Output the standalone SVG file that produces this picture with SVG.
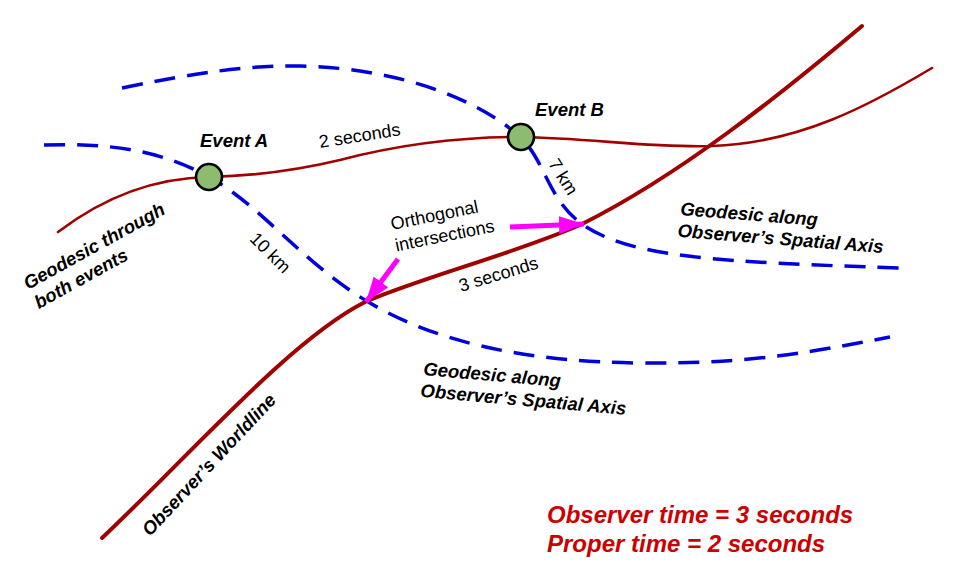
<svg xmlns="http://www.w3.org/2000/svg" width="960" height="586" viewBox="0 0 960 586">
<style>
  text { font-family: "Liberation Sans", Arial, sans-serif; fill: #000; }
  .bi { font-weight: bold; font-style: italic; font-size: 18.5px; }
  .rg { font-size: 18px; }
  .big { font-weight: bold; font-style: italic; font-size: 24px; fill: #cc0000; }
  .world { fill: none; stroke: #a00000; stroke-width: 4; stroke-linecap: round; }
  .geo { fill: none; stroke: #a00000; stroke-width: 2.6; stroke-linecap: round; }
  .dash { fill: none; stroke: #0000dd; stroke-width: 3.5; stroke-dasharray: 21 12; }
  .ptr { stroke: #ff00ff; stroke-width: 5; fill: none; marker-end: url(#mag); }
  .event { fill: #8dbb6f; stroke: #000; stroke-width: 2.6; }
</style>
<defs>
  <marker id="mag" markerUnits="userSpaceOnUse" markerWidth="26" markerHeight="20" refX="25" refY="9" orient="auto">
    <path d="M0,0 L25,9 L0,18 z" fill="#ff00ff"/>
  </marker>
</defs>
<rect width="960" height="586" fill="#fff"/>
<g id="connectors">
  <path id="geodesic-lower" class="dash" d="M44,145 C110,143 160,150 209,177 C260,205 300,260 365,300 C430,340 520,362 640,363 C760,364 820,350 890,337"/>
  <path id="geodesic-upper" class="dash" d="M122,88 C200,72 250,65 300,66 C400,68 480,100 520,137 C545,160 548,200 582,224 C630,258 720,262 900,268"/>
  <path id="worldline" class="world" d="M102,538 C190,455 290,340 365,302 C420,278 520,252 582,224 C680,175 780,95 862,26"/>
  <path id="geodesic-events" class="geo" d="M58,232 C100,200 150,178 209,177 C250,176 290,172 340,160 C390,147 450,137 520,137 C590,138 650,148 712,146 C800,143 870,105 932,68"/>
  <line id="arrow-1" class="ptr" x1="510" y1="227" x2="584" y2="224"/>
  <line id="arrow-2" class="ptr" x1="398" y1="259" x2="366" y2="302"/>
</g>
<g id="eventA">
  <circle class="event" cx="209" cy="177" r="13"/>
  <text class="bi" x="200" y="147">Event A</text>
</g>
<g id="eventB">
  <circle class="event" cx="521" cy="137" r="13"/>
  <text class="bi" x="535" y="116">Event B</text>
</g>
<g id="labels">
  <text class="rg" transform="translate(320,148) rotate(-9)">2 seconds</text>
  <text class="rg" transform="translate(461,292) rotate(-17)">3 seconds</text>
  <text class="rg" text-anchor="middle" transform="translate(558,180) rotate(58)">7 km</text>
  <text class="rg" text-anchor="middle" transform="translate(266,257) rotate(45)">10 km</text>
  <text class="rg" transform="translate(392,230) rotate(-11.5)"><tspan x="0" y="0">Orthogonal</tspan><tspan x="0" y="22">intersections</tspan></text>
  <text class="bi" transform="translate(28,290) rotate(-29)"><tspan x="0" y="0">Geodesic through</tspan><tspan x="0" y="22">both events</tspan></text>
  <text class="bi" transform="translate(680,215) rotate(4.5)"><tspan x="0" y="0">Geodesic along</tspan><tspan x="-1" y="22">Observer’s Spatial Axis</tspan></text>
  <text class="bi" transform="translate(423,375) rotate(5)"><tspan x="0" y="0">Geodesic along</tspan><tspan x="-1" y="22">Observer’s Spatial Axis</tspan></text>
  <text class="bi" transform="translate(150,537) rotate(-47)">Observer’s Worldline</text>
  <text class="big" x="547" y="523">Observer time = 3 seconds</text>
  <text class="big" x="547" y="552">Proper time = 2 seconds</text>
</g>
</svg>
